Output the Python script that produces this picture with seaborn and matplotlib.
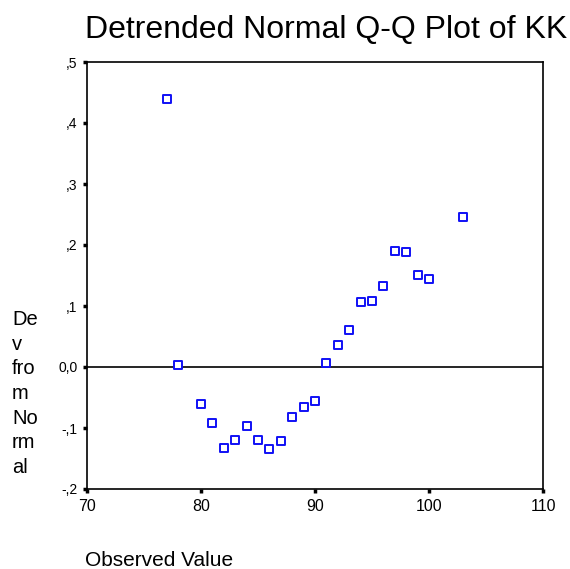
import matplotlib
matplotlib.use("Agg")
import matplotlib.pyplot as plt
import seaborn as sns
import pandas as pd

observed = [77, 78, 80, 81, 82, 83, 84, 85, 86, 87, 88, 89, 90, 91, 92, 93,
            94, 95, 96, 97, 98, 99, 100, 103]
deviation = [0.439, 0.003, -0.061, -0.092, -0.132, -0.120, -0.097, -0.120,
             -0.134, -0.122, -0.082, -0.066, -0.056, 0.007, 0.036, 0.060,
             0.106, 0.108, 0.133, 0.190, 0.188, 0.151, 0.144, 0.246]
x_ticks = [70, 80, 90, 100, 110]
y_ticks = [-0.2, -0.1, 0.0, 0.1, 0.2, 0.3, 0.4, 0.5]
y_tick_labels = ["-,2", "-,1", "0,0", ",1", ",2", ",3", ",4", ",5"]

df = pd.DataFrame({"Observed": observed, "Deviation": deviation})

sns.set_style("white")
plt.rcParams["font.family"] = ["Liberation Sans", "DejaVu Sans"]
plt.rcParams["text.color"] = "black"
plt.rcParams["xtick.color"] = "black"
plt.rcParams["ytick.color"] = "black"

fig = plt.figure(figsize=(5.70, 5.69), dpi=100)
ax = fig.add_axes([87/570, 1-489/569, 456/570, 427/569])

ax.axhline(0, color="black", lw=1.2, zorder=1)
sns.scatterplot(data=df, x="Observed", y="Deviation", ax=ax, marker="s",
                s=36, facecolor="white", edgecolor="#1010f5", linewidth=1.4,
                zorder=3, legend=False)

ax.set_xlim(70, 110)
ax.set_ylim(-0.2, 0.5)
ax.set_xticks(x_ticks)
ax.set_xticklabels([str(v) for v in x_ticks], fontsize=11.5)
ax.set_yticks(y_ticks)
ax.set_yticklabels(y_tick_labels, fontsize=10)
ax.tick_params(axis="both", direction="out", length=3, width=2.5,
               bottom=True, left=True)
ax.tick_params(axis="x", pad=4)
ax.tick_params(axis="y", pad=4)
for s in ax.spines.values():
    s.set_color("black")
    s.set_linewidth(1.2)
ax.set_xlabel("")
ax.set_ylabel("")

fig.text(326/570, 1-30/569, "Detrended Normal Q-Q Plot of KK", ha="center",
         va="center", fontsize=23)
fig.text(85/570, 1-560/569, "Observed Value", ha="left", va="center", fontsize=15)
fig.text(12/570, 1-310/569, "De\nv\nfro\nm\nNo\nrm\nal", ha="left", va="top",
         fontsize=14.5, linespacing=1.38)

fig.savefig("out.png", dpi=100)
